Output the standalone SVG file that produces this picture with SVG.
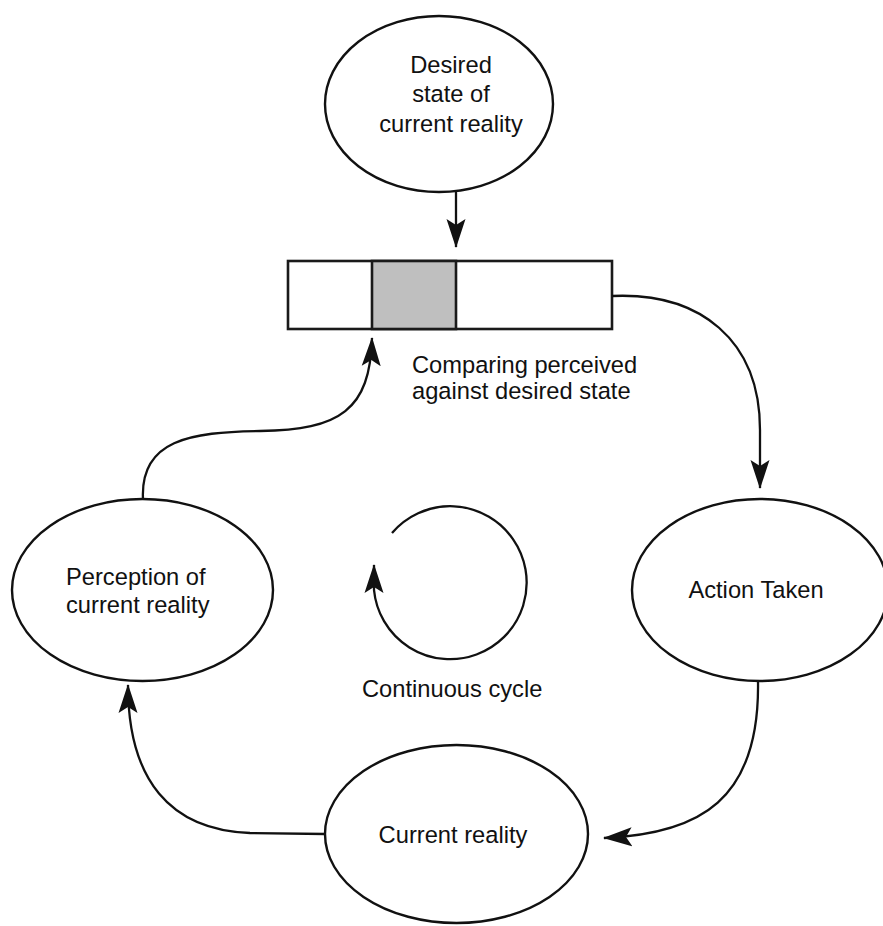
<svg xmlns="http://www.w3.org/2000/svg" width="883" height="926" viewBox="0 0 883 926">
  <style>
    .node { fill: #ffffff; stroke: #111111; stroke-width: 2.4; }
    .bar { stroke: #1a1a1a; stroke-width: 2.6; }
    .link { fill: none; stroke: #111111; stroke-width: 2.3; marker-end: url(#head); }
    text { font-family: "Liberation Sans", Arial, sans-serif; font-size: 23.7px; fill: #111111; }
    .c { text-anchor: middle; }
  </style>
  <defs>
    <!-- swept-back arrowhead -->
    <marker id="head" markerUnits="userSpaceOnUse" viewBox="0 0 29 20" refX="28" refY="10" markerWidth="29" markerHeight="20" orient="auto">
      <path d="M29,10 L0,0.5 L6,10 L0,19.5 Z" fill="#111111"/>
    </marker>
  </defs>

  <g id="desired-state">
    <ellipse class="node" cx="439" cy="104" rx="114" ry="88"/>
    <text class="c" x="451" y="73">Desired</text>
    <text class="c" x="451" y="102">state of</text>
    <text class="c" x="451" y="132">current reality</text>
  </g>

  <g id="comparator">
    <rect class="bar" x="288" y="261" width="324" height="68" fill="#ffffff"/>
    <rect class="bar" x="372" y="261" width="84" height="68" fill="#bfbfbf"/>
    <text x="412" y="373">Comparing perceived</text>
    <text x="412" y="399">against desired state</text>
  </g>

  <g id="perception">
    <ellipse class="node" cx="142.5" cy="590" rx="130.5" ry="91"/>
    <text x="66" y="585">Perception of</text>
    <text x="66" y="613">current reality</text>
  </g>

  <g id="action-taken">
    <ellipse class="node" cx="760" cy="590" rx="128" ry="91"/>
    <text class="c" x="756" y="598">Action Taken</text>
  </g>

  <g id="current-reality">
    <ellipse class="node" cx="456.5" cy="834" rx="131.5" ry="89"/>
    <text class="c" x="453" y="843">Current reality</text>
  </g>

  <g id="cycle">
    <path class="link" d="M392,533 A76.5,76.5 0 1 1 374,590 L374,565"/>
    <text x="362" y="697">Continuous cycle</text>
  </g>

  <g id="connectors">
    <path class="link" d="M456,192 L456,247"/>
    <path class="link" d="M612,296 C700,292 760,340 760,430 L760,488"/>
    <path class="link" d="M758,681 C760,800 700,834 604,838"/>
    <path class="link" d="M325,834 L250,833 C170,830 128,780 128,685"/>
    <path class="link" d="M143,499 C140,440 190,432 260,431 C340,430 370,410 372,338"/>
  </g>
</svg>
